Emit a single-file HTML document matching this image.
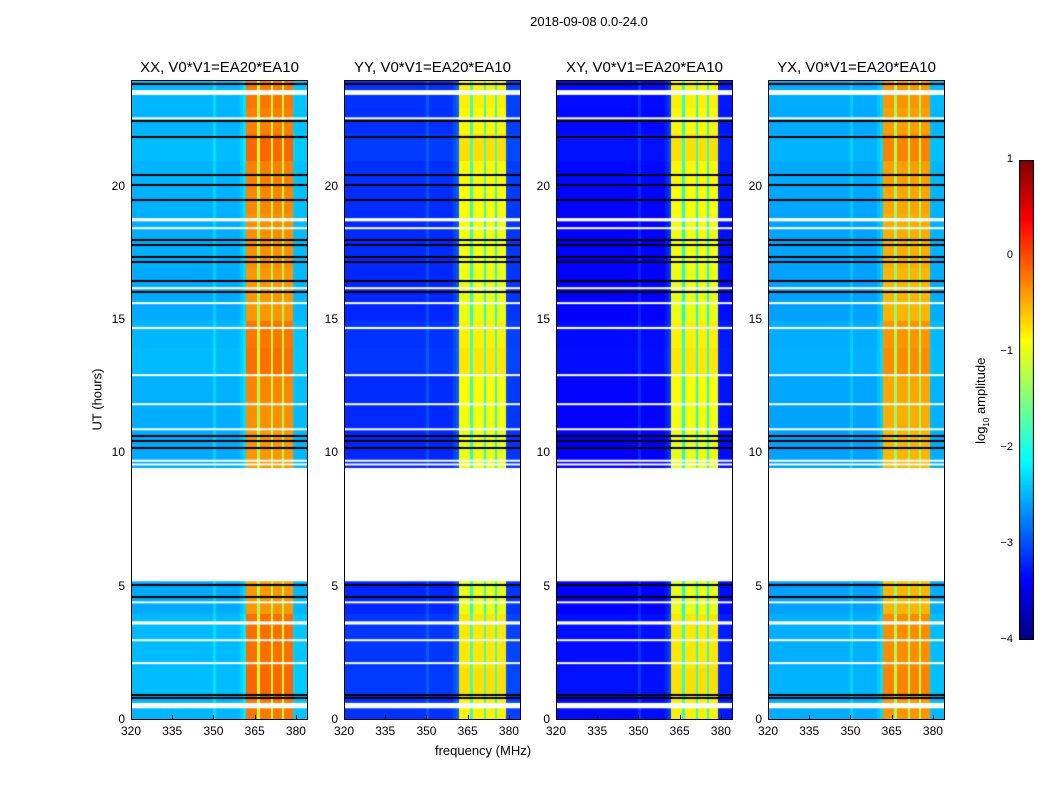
<!DOCTYPE html>
<html><head><meta charset="utf-8">
<style>
body{margin:0;background:#fff;width:1050px;height:800px;overflow:hidden;position:relative;font-family:"Liberation Sans",sans-serif;color:#000}
.t{position:absolute;white-space:nowrap}
canvas{position:absolute}
</style></head>
<body>
<div class="t" style="left:489px;top:14px;width:200px;text-align:center;font-size:13px">2018-09-08 0.0-24.0</div>
<div class="t" style="left:383px;top:743px;width:200px;text-align:center;font-size:13px">frequency (MHz)</div>
<div class="t" style="left:47px;top:392px;width:100px;text-align:center;font-size:13px;transform:rotate(-90deg)">UT (hours)</div>
<div class="t" style="left:922px;top:392px;width:120px;text-align:center;font-size:13px;transform:rotate(-90deg)">log<sub style="font-size:8px">10</sub> amplitude</div>
<div id="root"></div>
<script>
// ---- data ----
const panelTitles = ["XX, V0*V1=EA20*EA10","YY, V0*V1=EA20*EA10","XY, V0*V1=EA20*EA10","YX, V0*V1=EA20*EA10"];
const panelBg = [-2.55, -3.2, -3.4, -2.6];
const panelBand = [-0.4, -1.0, -1.0, -0.55];
// band shape per 1 MHz bin, 320..383 MHz
const freqShape = [0,0,0,0,0,0,0,0,0,0,0,0,0,0,0,0,0,0,0,0,0,0,0,0,0,0,0,0,0,0,0.08,0,0,0,0,0,0,0,0,0,0.05,0.1,
  1,1,1,1,0.55,1,1,1,1,0.55,1,1,1,0.55,1,1,1,0.05,0.03,0.03,0.03,0.03];
// hourly level adjustment (0..23 h)
const hourAdj = [0.25,0.35,0.3,0.3,0.05,0.0,0,0,0,0.05,0.05,0.1,0.15,0.3,0.25,0.05,0.05,0.1,0.1,0.15,0.2,0.35,0.2,0.25];
const gapRange = [5.2, 9.45];
const whiteRows = [[23.44,23.62],[22.55,22.6],[18.7,18.82],[18.43,18.48],[16.18,16.23],[15.62,15.67],[14.66,14.74],[12.92,12.97],[11.83,11.88],[10.89,10.94],[9.72,9.76],[9.58,9.62],[4.4,4.45],[3.58,3.7],[2.98,3.03],[2.12,2.17],[0.44,0.64]];
const blackRows = [23.85,22.46,21.86,20.43,20.06,19.5,18.0,17.81,17.36,17.17,16.46,16.05,10.65,10.46,10.2,5.06,4.61,0.94,0.82];
const xTicks = [320,335,350,365,380];
const yTicks = [0,5,10,15,20];
const cbTicks = [1,0,-1,-2,-3,-4];

// ---- geometry ----
const panelLeft = [131,344,556,768], PW=177, PT=80, PB=720;
const fMin=320,fMax=384.4,hMin=0,hMax=24;
const root=document.getElementById('root');
function xs(f,p){return panelLeft[p]+(f-fMin)/(fMax-fMin)*PW;}
function ys(h){return PB-(h-hMin)/(hMax-hMin)*(PB-PT);}
function jet(v){ // v in [-4,1]
  let t=(v+4)/5; t=Math.max(0,Math.min(1,t));
  const c=x=>Math.max(0,Math.min(1,x));
  const r=c(1.5-Math.abs(4*t-3)),g=c(1.5-Math.abs(4*t-2)),b=c(1.5-Math.abs(4*t-1));
  return `rgb(${r*255|0},${g*255|0},${b*255|0})`;
}
function div(cls,name,css,txt){const d=document.createElement('div');d.className=cls||'';d.style.cssText=css;if(txt!==undefined)d.textContent=txt;root.appendChild(d);return d;}

for(let p=0;p<4;p++){
  const cv=document.createElement('canvas');
  
  
  cv.width=PW;cv.height=PB-PT;cv.style.left=panelLeft[p]+'px';cv.style.top=PT+'px';
  root.appendChild(cv);
  const ctx=cv.getContext('2d');
  const nRows=240;
  for(let r=0;r<nRows;r++){
    const h0=r*0.1,h1=h0+0.1;
    if(h0>=gapRange[0]&&h1<=gapRange[1]+0.05) continue;
    const adj=hourAdj[Math.min(23,Math.floor(h0))];
    for(let i=0;i<freqShape.length;i++){
      const s=freqShape[i];
      const v=panelBg[p]+s*(panelBand[p]-panelBg[p])+adj*(0.3+s*0.5);
      ctx.fillStyle=jet(v);
      const x0=xs(fMin+i,p)-panelLeft[p],x1=xs(fMin+i+1,p)-panelLeft[p];
      const y0=ys(h1)-PT,y1=ys(h0)-PT;
      ctx.fillRect(Math.floor(x0),Math.floor(y0),Math.ceil(x1-x0)+1,Math.ceil(y1-y0)+1);
    }
  }
  ctx.fillStyle='#fff';
  ctx.fillRect(0,ys(gapRange[1])-PT,PW,ys(gapRange[0])-ys(gapRange[1]));
  whiteRows.forEach(w=>{const y0=ys(w[1])-PT,y1=ys(w[0])-PT;ctx.fillRect(0,y0,PW,Math.max(2,y1-y0));});
  ctx.fillStyle='#000';
  blackRows.forEach(b=>{ctx.fillRect(0,Math.round(ys(b)-PT)-1,PW,2);});
  const fr=div('','',`position:absolute;left:${panelLeft[p]}px;top:${PT}px;width:${PW-2}px;height:${PB-PT-2}px;border:1px solid #000`);
  
  
  const tt=div('t','',`left:${panelLeft[p]-20}px;top:59px;width:${PW+40}px;text-align:center;font-size:15px`,panelTitles[p]);
  
  
  xTicks.forEach(f=>{
    const x=xs(f,p);
    const l=div('t','',`left:${x-20}px;top:724px;width:40px;text-align:center;font-size:12px`,String(f));
    
    
    const tk=div('','',`position:absolute;left:${Math.round(x)}px;top:${PB-5}px;width:1px;height:5px;background:#000`);
    
    
  });
  yTicks.forEach(h=>{
    const y=ys(h);
    const l=div('t','',`left:${panelLeft[p]-40}px;top:${y-8}px;width:34px;text-align:right;font-size:12px`,String(h));
    
    
  });
}
// colorbar
const cbTop=160,cbBot=640;
const cb=document.createElement('canvas');


cb.width=15;cb.height=cbBot-cbTop;cb.style.left='1019px';cb.style.top=cbTop+'px';
root.appendChild(cb);
const cctx=cb.getContext('2d');
for(let y=0;y<cb.height;y++){cctx.fillStyle=jet(1-5*y/cb.height);cctx.fillRect(0,y,15,1);}
cctx.strokeStyle='#000';cctx.strokeRect(0.5,0.5,14,cb.height-1);
cbTicks.forEach(v=>{
  const y=cbTop+(1-v)/5*(cbBot-cbTop);
  const l=div('t','',`left:975px;top:${y-7}px;width:38px;text-align:right;font-size:11px`,v<0?'\u2212'+(-v):String(v));
  
  
});
</script>
</body></html>
